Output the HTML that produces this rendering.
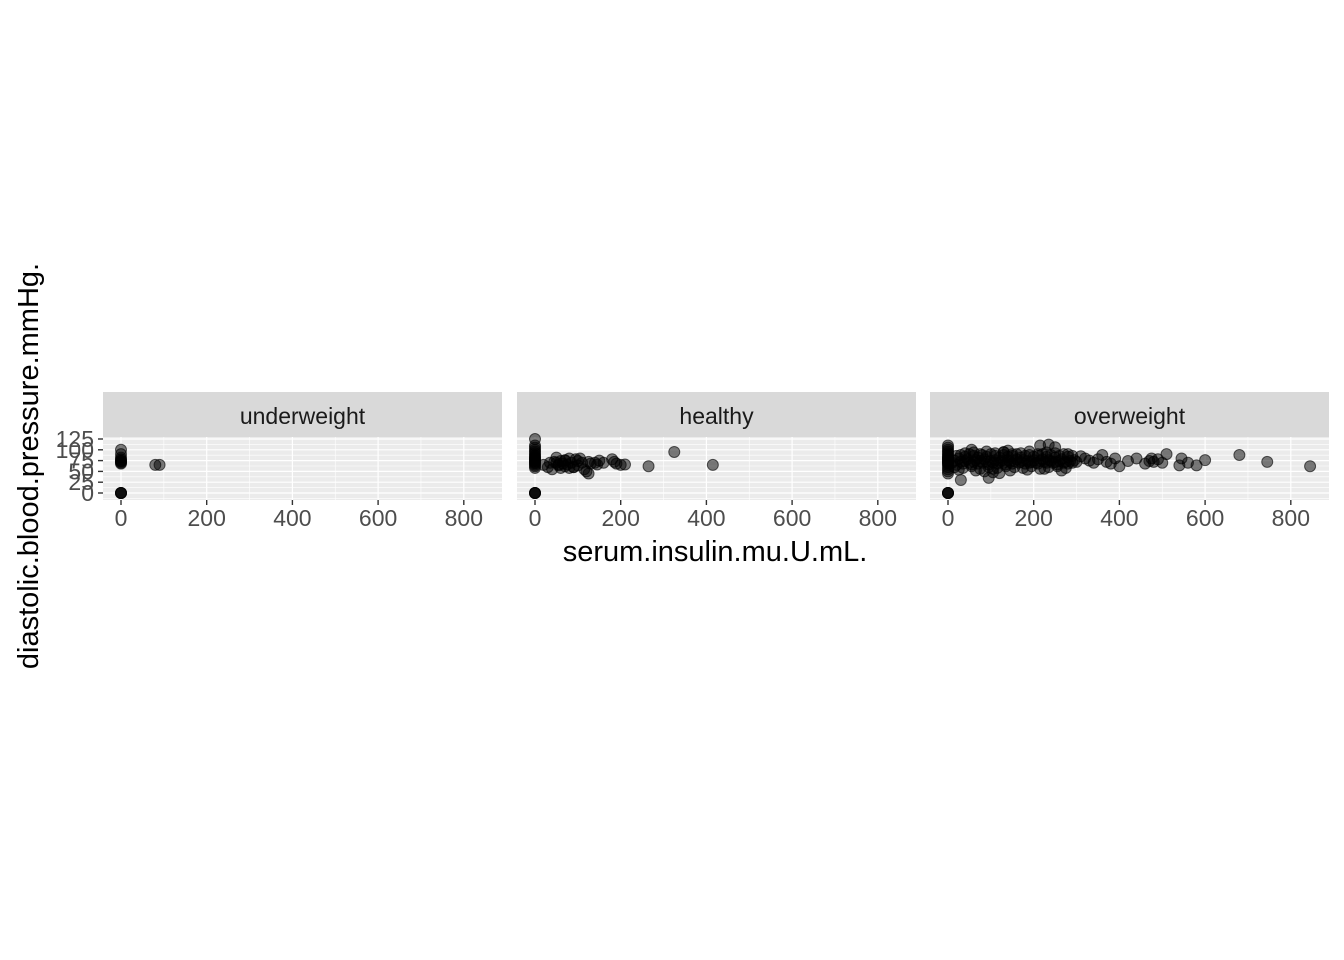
<!DOCTYPE html>
<html><head><meta charset="utf-8"><style>
body{margin:0;background:#fff;}
svg{display:block;font-family:"Liberation Sans",sans-serif;}
</style></head><body>
<svg id="chart" width="1344" height="960" viewBox="0 0 1344 960"></svg>
<script>
const panelNames = ["underweight","healthy","overweight"];
const xTicks = [0,200,400,600,800];
const yTicks = [0,25,50,75,100,125];
const underX = [0,0,0,0,0,0,0,0,0,0,80,90,0,0,0];
const underY = [0,0,0,100,90,82,78,75,72,70,65,65,68,74,0];
const healthyX = [0,0,0,0,0,0,0,0,0,0,0,0,0,0,0,0,0,0,0,0,0,0,0,
 20,30,40,45,50,55,60,60,65,70,70,75,80,85,90,95,100,100,110,115,120,125,130,140,145,150,160,180,185,190,200,210,265,325,415,50,70,90,105,125,35,55,80];
const healthyY = [0,0,0,0,125,110,105,100,96,92,88,85,82,80,78,76,74,72,70,68,65,62,58,
 65,60,55,72,70,64,74,58,68,76,62,66,80,70,60,78,74,64,70,55,50,45,68,70,66,75,70,78,72,68,65,66,62,95,65,82,75,60,80,72,70,66,58];
const overX = [0,0,0,0,0,0,0,0,0,0,0,0,0,0,0,0,0,0,0,0,0,0,0,0,
 10,15,20,25,30,35,40,45,50,55,60,65,70,75,80,85,90,95,100,105,110,115,120,125,130,135,140,145,150,155,160,165,170,175,180,185,190,195,200,205,210,215,220,225,230,235,240,245,250,255,260,265,270,275,280,285,290,295,300,
 20,30,40,50,60,70,80,90,100,110,120,130,140,150,160,170,180,190,200,210,220,230,240,250,260,270,280,290,
 15,35,55,75,95,115,135,155,175,195,215,235,255,275,
 40,60,75,90,110,130,150,170,190,210,230,250,280,
 25,65,105,145,185,225,265,
 310,320,330,340,350,360,370,380,390,400,420,440,460,470,475,480,490,500,510,540,545,560,580,600,680,745,845,
 85,95,120,105,215,235,250,
 130,140,30,55];
const overY = [0,0,0,0,110,105,100,96,92,88,85,82,80,78,76,74,72,70,68,65,60,55,50,45,
 70,75,65,80,72,68,74,78,70,66,72,76,68,74,70,78,72,66,74,70,76,68,72,74,70,66,76,72,68,74,78,70,72,76,68,74,70,72,76,70,68,74,78,72,70,76,74,70,72,66,74,78,70,72,68,74,70,76,72,
 86,88,84,90,86,82,88,84,90,86,82,88,84,86,90,82,86,88,84,86,90,84,88,82,86,90,84,86,
 60,58,62,56,60,58,62,60,58,62,56,60,62,58,
 92,94,90,96,92,94,90,92,96,90,94,92,90,
 54,52,56,52,54,56,52,
 85,80,75,70,78,88,72,68,80,62,74,80,68,74,80,72,78,70,90,64,80,70,64,76,88,72,62,
 50,35,46,48,110,112,106,
 95,98,30,100];

const svgEl = document.getElementById('chart');
const NS = "http://www.w3.org/2000/svg";
function mk(tag, attrs, parent){const e=document.createElementNS(NS,tag);for(const k in attrs)e.setAttribute(k,attrs[k]);(parent||svgEl).appendChild(e);return e;}
const panelLeft = [103,517,930], panelW = 399, pTop = 437, pBottom = 500;
const stripTop = 392;
function xs(p,v){return panelLeft[p]+18+v*0.4285;}
function ys(v){return 493-v*0.432;}
const datasets = [[underX,underY],[healthyX,healthyY],[overX,overY]];

for(let p=0;p<3;p++){
  const g = mk('g',{});
  
  
  const strip = mk('rect',{x:panelLeft[p],y:stripTop,width:panelW,height:45,fill:'#D9D9D9'},g);
  
  
  const st = mk('text',{x:panelLeft[p]+panelW/2,y:stripTop+32,'text-anchor':'middle','font-size':'23',fill:'#1A1A1A'},g);
  st.textContent = panelNames[p];
  
  
  const bg = mk('rect',{x:panelLeft[p],y:pTop,width:panelW,height:pBottom-pTop,fill:'#EBEBEB'},g);
  
  
  for(let i=0;i<yTicks.length;i++){
    const v=yTicks[i]+12.5; if(ys(v)>pTop) mk('line',{x1:panelLeft[p],x2:panelLeft[p]+panelW,y1:ys(v),y2:ys(v),stroke:'#fff','stroke-width':0.6},g);
    const v2=yTicks[i]-12.5; if(v2<0) mk('line',{x1:panelLeft[p],x2:panelLeft[p]+panelW,y1:ys(v2),y2:ys(v2),stroke:'#fff','stroke-width':0.6},g);
  }
  for(let i=0;i<xTicks.length;i++){
    const v=xTicks[i]+100; if(xs(p,v)<panelLeft[p]+panelW) mk('line',{x1:xs(p,v),x2:xs(p,v),y1:pTop,y2:pBottom,stroke:'#fff','stroke-width':0.6},g);
  }
  for(const v of yTicks) mk('line',{x1:panelLeft[p],x2:panelLeft[p]+panelW,y1:ys(v),y2:ys(v),stroke:'#fff','stroke-width':1.2},g);
  for(const v of xTicks){
    mk('line',{x1:xs(p,v),x2:xs(p,v),y1:pTop,y2:pBottom,stroke:'#fff','stroke-width':1.2},g);
    mk('line',{x1:xs(p,v),x2:xs(p,v),y1:pBottom,y2:pBottom+5,stroke:'#333','stroke-width':1.4},g);
    const t = mk('text',{x:xs(p,v),y:pBottom+26,'text-anchor':'middle','font-size':'23',fill:'#4D4D4D'},g);
    t.textContent = v;
    
    
  }
  const [dx,dy] = datasets[p];
  for(let i=0;i<dx.length;i++){
    const c = mk('circle',{cx:xs(p,dx[i]),cy:ys(dy[i]),r:5.5,fill:'rgba(0,0,0,0.5)',stroke:'rgba(0,0,0,0.6)','stroke-width':1},g);
    
    
  }
}
for(const v of yTicks){
  mk('line',{x1:98,x2:103,y1:ys(v),y2:ys(v),stroke:'#333','stroke-width':1.4});
  const t = mk('text',{x:94,y:ys(v)+8,'text-anchor':'end','font-size':'23',fill:'#4D4D4D'});
  t.textContent = v;
  
  
}
const xt = mk('text',{x:715,y:561,'text-anchor':'middle','font-size':'29',fill:'#000'});
xt.textContent = 'serum.insulin.mu.U.mL.';


const yt = mk('text',{x:0,y:0,'text-anchor':'middle','font-size':'29',fill:'#000',transform:'translate(38,466) rotate(-90)'});
yt.textContent = 'diastolic.blood.pressure.mmHg.';


</script>
</body></html>
